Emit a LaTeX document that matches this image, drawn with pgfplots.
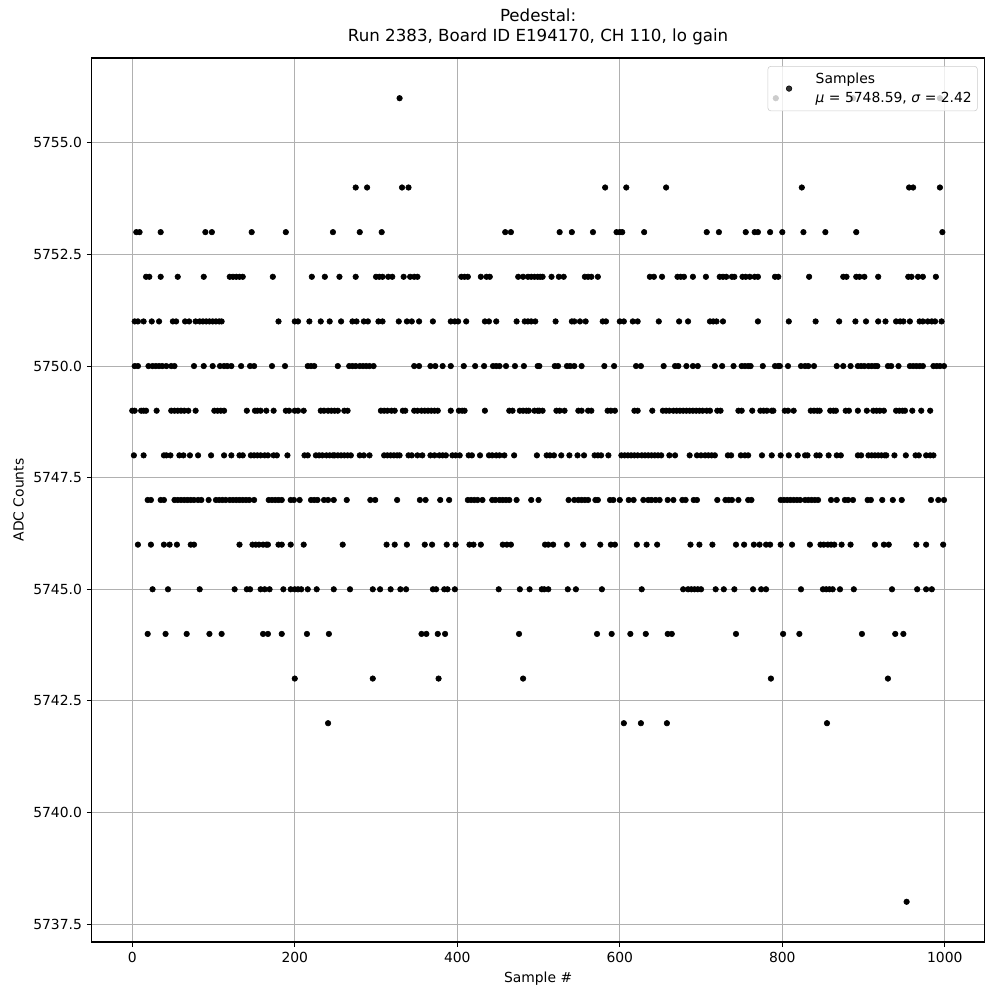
\documentclass[border=0pt]{standalone}
\usepackage{fontspec}
\setmainfont{DejaVu Sans}
\usepackage{pgfplots}
\pgfplotsset{compat=1.18}
\definecolor{gridgray}{HTML}{B0B0B0}
\definecolor{legendgray}{HTML}{CCCCCC}
\begin{document}
\begin{tikzpicture}
\begin{axis}[
  scale only axis, width=643pt, height=636.5pt,
  xmin=-49.95, xmax=1048.95, ymin=5737.1, ymax=5756.9,
  xtick={0,200,...,1000}, ytick={5737.5,5740,5742.5,5745,5747.5,5750,5752.5,5755},
  /pgf/number format/assume math mode=true,
  yticklabel style={/pgf/number format/.cd, fixed, fixed zerofill, precision=1, 1000 sep={}, assume math mode=true},
  xticklabel style={/pgf/number format/.cd, 1000 sep={}, assume math mode=true},
  ticklabel style={font=\fontsize{10}{12}\selectfont},
  grid=major, grid style={color=gridgray, line width=0.8pt},
  axis line style={line width=0.8pt},
  tick align=outside, major tick length=3.5pt, tick style={black, line width=0.8pt},
  tick pos=left,
  xlabel={Sample \#}, ylabel={ADC Counts},
  label style={font=\fontsize{10}{12}\selectfont},
  title={Pedestal:\\Run 2383, Board ID E194170, CH 110, lo gain},
  title style={align=center, font=\fontsize{12}{14.4}\selectfont},
  legend style={at={(1,1)}, xshift=-5pt, yshift=-5.8pt, anchor=north east, draw=legendgray, rounded corners=2pt, fill=white, fill opacity=0.8, text opacity=1, draw opacity=1, font=\fontsize{10}{13.9}\selectfont, cells={align=left}, inner xsep=2pt, inner ysep=2.5pt},
  legend cell align=left,
  legend image code/.code={\path (0pt,0pt) (30pt,0pt); \draw[mark repeat=2,mark phase=2,#1] plot coordinates {(4pt,0pt)(13pt,0pt)(22pt,0pt)};},
]
\addplot[only marks, mark=*, mark size=2pt, black] coordinates {
(329,5756)(792,5756)(887,5756)(994,5756)
(275,5754)(289,5754)(332,5754)(340,5754)(582,5754)(608,5754)(657,5754)(824,5754)(956,5754)(961,5754)(994,5754)
(5,5753)(9,5753)(35,5753)(90,5753)(98,5753)(147,5753)(189,5753)(247,5753)(280,5753)(307,5753)(459,5753)(466,5753)(526,5753)(541,5753)(567,5753)(596,5753)(600,5753)(603,5753)(630,5753)(707,5753)(722,5753)(755,5753)(766,5753)(770,5753)(785,5753)(800,5753)(826,5753)(853,5753)(891,5753)(997,5753)
(17,5752)(21,5752)(35,5752)(56,5752)(88,5752)(120,5752)(124,5752)(128,5752)(132,5752)(136,5752)(173,5752)(221,5752)(237,5752)(255,5752)(275,5752)(300,5752)(304,5752)(308,5752)(315,5752)(320,5752)(334,5752)(342,5752)(347,5752)(351,5752)(405,5752)(409,5752)(413,5752)(429,5752)(436,5752)(440,5752)(475,5752)(481,5752)(487,5752)(491,5752)(495,5752)(499,5752)(502,5752)(505,5752)(516,5752)(525,5752)(531,5752)(557,5752)(561,5752)(565,5752)(573,5752)(637,5752)(642,5752)(652,5752)(671,5752)(675,5752)(679,5752)(690,5752)(706,5752)(723,5752)(727,5752)(731,5752)(738,5752)(741,5752)(751,5752)(755,5752)(760,5752)(766,5752)(770,5752)(791,5752)(795,5752)(833,5752)(875,5752)(879,5752)(891,5752)(895,5752)(901,5752)(918,5752)(955,5752)(959,5752)(967,5752)(973,5752)(989,5752)
(3,5751)(7,5751)(14,5751)(24,5751)(33,5751)(50,5751)(54,5751)(65,5751)(70,5751)(78,5751)(83,5751)(87,5751)(91,5751)(95,5751)(99,5751)(103,5751)(107,5751)(110,5751)(180,5751)(200,5751)(204,5751)(218,5751)(232,5751)(243,5751)(257,5751)(271,5751)(276,5751)(285,5751)(290,5751)(303,5751)(308,5751)(328,5751)(338,5751)(344,5751)(353,5751)(370,5751)(392,5751)(397,5751)(401,5751)(411,5751)(434,5751)(439,5751)(448,5751)(473,5751)(483,5751)(487,5751)(491,5751)(496,5751)(521,5751)(541,5751)(544,5751)(551,5751)(558,5751)(579,5751)(583,5751)(600,5751)(605,5751)(616,5751)(622,5751)(648,5751)(673,5751)(684,5751)(711,5751)(715,5751)(719,5751)(727,5751)(770,5751)(808,5751)(841,5751)(870,5751)(890,5751)(903,5751)(918,5751)(927,5751)(940,5751)(945,5751)(949,5751)(957,5751)(969,5751)(973,5751)(979,5751)(984,5751)(988,5751)(996,5751)
(3,5750)(7,5750)(20,5750)(25,5750)(29,5750)(33,5750)(37,5750)(42,5750)(48,5750)(52,5750)(76,5750)(88,5750)(99,5750)(108,5750)(113,5750)(117,5750)(122,5750)(134,5750)(145,5750)(150,5750)(172,5750)(188,5750)(216,5750)(220,5750)(224,5750)(253,5750)(267,5750)(271,5750)(275,5750)(280,5750)(284,5750)(288,5750)(292,5750)(297,5750)(347,5750)(353,5750)(367,5750)(373,5750)(382,5750)(392,5750)(408,5750)(422,5750)(433,5750)(444,5750)(448,5750)(452,5750)(460,5750)(471,5750)(482,5750)(499,5750)(501,5750)(520,5750)(524,5750)(535,5750)(539,5750)(544,5750)(553,5750)(581,5750)(593,5750)(620,5750)(626,5750)(654,5750)(668,5750)(672,5750)(682,5750)(690,5750)(696,5750)(717,5750)(726,5750)(740,5750)(750,5750)(754,5750)(758,5750)(761,5750)(776,5750)(791,5750)(795,5750)(797,5750)(807,5750)(823,5750)(828,5750)(832,5750)(839,5750)(867,5750)(875,5750)(884,5750)(893,5750)(897,5750)(901,5750)(906,5750)(910,5750)(914,5750)(917,5750)(930,5750)(934,5750)(943,5750)(957,5750)(961,5750)(965,5750)(969,5750)(973,5750)(986,5750)(990,5750)(994,5750)(999,5750)
(0,5749)(3,5749)(11,5749)(14,5749)(17,5749)(30,5749)(48,5749)(52,5749)(56,5749)(60,5749)(64,5749)(69,5749)(78,5749)(101,5749)(105,5749)(109,5749)(113,5749)(141,5749)(151,5749)(154,5749)(158,5749)(165,5749)(174,5749)(189,5749)(193,5749)(200,5749)(204,5749)(211,5749)(232,5749)(236,5749)(241,5749)(245,5749)(249,5749)(253,5749)(261,5749)(265,5749)(306,5749)(310,5749)(314,5749)(319,5749)(323,5749)(333,5749)(336,5749)(347,5749)(351,5749)(356,5749)(360,5749)(364,5749)(368,5749)(372,5749)(376,5749)(392,5749)(402,5749)(406,5749)(409,5749)(434,5749)(464,5749)(468,5749)(477,5749)(481,5749)(485,5749)(488,5749)(495,5749)(499,5749)(501,5749)(505,5749)(522,5749)(526,5749)(532,5749)(549,5749)(553,5749)(561,5749)(565,5749)(585,5749)(589,5749)(594,5749)(618,5749)(622,5749)(640,5749)(653,5749)(657,5749)(661,5749)(666,5749)(670,5749)(674,5749)(678,5749)(682,5749)(686,5749)(690,5749)(694,5749)(698,5749)(702,5749)(707,5749)(711,5749)(720,5749)(724,5749)(746,5749)(750,5749)(763,5749)(773,5749)(777,5749)(781,5749)(787,5749)(789,5749)(803,5749)(807,5749)(814,5749)(835,5749)(839,5749)(843,5749)(846,5749)(859,5749)(863,5749)(866,5749)(878,5749)(882,5749)(893,5749)(904,5749)(912,5749)(916,5749)(920,5749)(925,5749)(940,5749)(944,5749)(948,5749)(951,5749)(960,5749)(971,5749)(982,5749)
(2,5748)(14,5748)(39,5748)(42,5748)(47,5748)(58,5748)(63,5748)(71,5748)(81,5748)(97,5748)(113,5748)(122,5748)(132,5748)(136,5748)(146,5748)(150,5748)(154,5748)(158,5748)(163,5748)(167,5748)(174,5748)(178,5748)(191,5748)(212,5748)(216,5748)(226,5748)(230,5748)(234,5748)(239,5748)(243,5748)(247,5748)(249,5748)(253,5748)(257,5748)(261,5748)(265,5748)(269,5748)(280,5748)(285,5748)(292,5748)(310,5748)(314,5748)(318,5748)(322,5748)(326,5748)(329,5748)(340,5748)(344,5748)(351,5748)(357,5748)(367,5748)(372,5748)(378,5748)(382,5748)(386,5748)(394,5748)(398,5748)(403,5748)(414,5748)(418,5748)(428,5748)(439,5748)(443,5748)(448,5748)(452,5748)(458,5748)(470,5748)(498,5748)(510,5748)(514,5748)(519,5748)(528,5748)(538,5748)(548,5748)(556,5748)(569,5748)(573,5748)(577,5748)(586,5748)(602,5748)(606,5748)(610,5748)(614,5748)(618,5748)(622,5748)(627,5748)(631,5748)(635,5748)(639,5748)(643,5748)(647,5748)(651,5748)(661,5748)(668,5748)(686,5748)(695,5748)(700,5748)(705,5748)(709,5748)(713,5748)(717,5748)(733,5748)(737,5748)(749,5748)(754,5748)(758,5748)(775,5748)(787,5748)(798,5748)(808,5748)(819,5748)(828,5748)(831,5748)(842,5748)(846,5748)(857,5748)(867,5748)(872,5748)(893,5748)(897,5748)(906,5748)(910,5748)(914,5748)(918,5748)(922,5748)(926,5748)(928,5748)(938,5748)(952,5748)(964,5748)(968,5748)(977,5748)(982,5748)(986,5748)
(19,5747)(23,5747)(35,5747)(39,5747)(52,5747)(56,5747)(60,5747)(64,5747)(68,5747)(72,5747)(76,5747)(81,5747)(85,5747)(94,5747)(103,5747)(107,5747)(111,5747)(115,5747)(120,5747)(124,5747)(128,5747)(132,5747)(136,5747)(140,5747)(144,5747)(150,5747)(168,5747)(172,5747)(176,5747)(180,5747)(184,5747)(195,5747)(199,5747)(206,5747)(220,5747)(224,5747)(228,5747)(236,5747)(241,5747)(248,5747)(264,5747)(293,5747)(299,5747)(326,5747)(354,5747)(361,5747)(379,5747)(390,5747)(413,5747)(417,5747)(421,5747)(425,5747)(431,5747)(443,5747)(447,5747)(452,5747)(456,5747)(460,5747)(464,5747)(473,5747)(491,5747)(500,5747)(537,5747)(544,5747)(549,5747)(553,5747)(557,5747)(561,5747)(570,5747)(573,5747)(588,5747)(592,5747)(600,5747)(611,5747)(617,5747)(629,5747)(635,5747)(639,5747)(644,5747)(649,5747)(659,5747)(666,5747)(677,5747)(681,5747)(691,5747)(695,5747)(720,5747)(730,5747)(734,5747)(738,5747)(746,5747)(758,5747)(762,5747)(798,5747)(802,5747)(806,5747)(810,5747)(814,5747)(818,5747)(822,5747)(828,5747)(832,5747)(836,5747)(840,5747)(844,5747)(860,5747)(867,5747)(877,5747)(881,5747)(887,5747)(905,5747)(909,5747)(923,5747)(936,5747)(947,5747)(983,5747)(992,5747)(999,5747)
(7,5746)(23,5746)(39,5746)(46,5746)(55,5746)(72,5746)(76,5746)(132,5746)(148,5746)(152,5746)(156,5746)(161,5746)(165,5746)(167,5746)(180,5746)(184,5746)(195,5746)(211,5746)(259,5746)(313,5746)(323,5746)(338,5746)(360,5746)(369,5746)(387,5746)(398,5746)(415,5746)(420,5746)(429,5746)(456,5746)(461,5746)(466,5746)(508,5746)(512,5746)(518,5746)(535,5746)(555,5746)(576,5746)(589,5746)(594,5746)(621,5746)(633,5746)(646,5746)(687,5746)(698,5746)(714,5746)(743,5746)(753,5746)(765,5746)(772,5746)(780,5746)(785,5746)(798,5746)(812,5746)(834,5746)(847,5746)(851,5746)(856,5746)(860,5746)(864,5746)(873,5746)(884,5746)(914,5746)(925,5746)(931,5746)(965,5746)(977,5746)(998,5746)
(25,5745)(44,5745)(83,5745)(126,5745)(141,5745)(145,5745)(158,5745)(163,5745)(169,5745)(186,5745)(195,5745)(200,5745)(204,5745)(208,5745)(216,5745)(227,5745)(248,5745)(268,5745)(296,5745)(305,5745)(318,5745)(330,5745)(337,5745)(370,5745)(374,5745)(384,5745)(388,5745)(397,5745)(451,5745)(477,5745)(489,5745)(504,5745)(507,5745)(512,5745)(536,5745)(546,5745)(578,5745)(627,5745)(678,5745)(684,5745)(688,5745)(692,5745)(696,5745)(700,5745)(718,5745)(728,5745)(741,5745)(764,5745)(774,5745)(780,5745)(823,5745)(850,5745)(854,5745)(858,5745)(862,5745)(871,5745)(888,5745)(935,5745)(966,5745)(977,5745)(984,5745)
(19,5744)(41,5744)(67,5744)(95,5744)(110,5744)(161,5744)(167,5744)(184,5744)(215,5744)(242,5744)(356,5744)(362,5744)(376,5744)(385,5744)(476,5744)(572,5744)(590,5744)(613,5744)(632,5744)(659,5744)(664,5744)(743,5744)(801,5744)(821,5744)(898,5744)(939,5744)(949,5744)
(200,5743)(296,5743)(377,5743)(481,5743)(786,5743)(930,5743)
(241,5742)(605,5742)(626,5742)(658,5742)(855,5742)
(953,5738)
};
\addlegendentry{Samples\\\textit{μ} = 5748.59, \textit{σ} = 2.42}
\end{axis}
\pgfresetboundingbox
\path (-66pt,-41.8pt) rectangle (653.8pt,678.3pt);
\end{tikzpicture}
\end{document}
